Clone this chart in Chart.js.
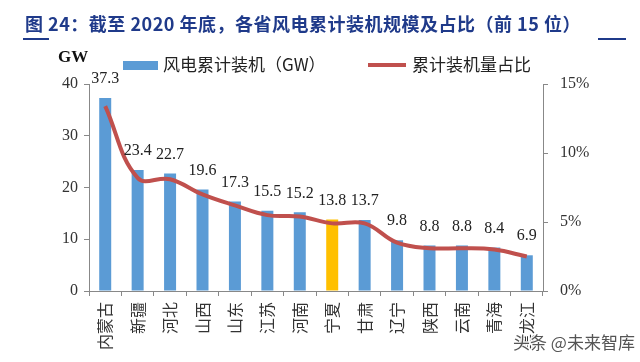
<!DOCTYPE html>
<html>
<head>
<meta charset="utf-8">
<script src="https://cdn.jsdelivr.net/npm/chart.js@4"></script>
<style>
  html, body { margin: 0; padding: 0; background: #fff; }
  #wrap { width: 640px; height: 362px; position: relative; }
</style>
</head>
<body>
<div id="wrap"><canvas id="myChart"></canvas></div>
<script>
const provinces = ["内蒙古", "新疆", "河北", "山西", "山东", "江苏", "河南", "宁夏", "甘肃", "辽宁", "陕西", "云南", "青海", "黑龙江"];
const capacityGW = [37.3, 23.4, 22.7, 19.6, 17.3, 15.5, 15.2, 13.8, 13.7, 9.8, 8.8, 8.8, 8.4, 6.9];
const sharePct = [13.4, 8.2, 8.1, 7.0, 6.2, 5.5, 5.4, 4.9, 4.9, 3.5, 3.1, 3.1, 3.0, 2.5];
const gwTicks = [0, 10, 20, 30, 40];
const pctTicks = [0, 5, 10, 15];

const titleText = "图 24：截至 2020 年底，各省风电累计装机规模及占比（前 15 位）";
const navy = "#1f3a8a";
const blue = "#5b9bd5";
const red = "#c0504d";
const serif = "'Liberation Serif', 'DejaVu Serif', serif";
const cjk = "'Noto Sans CJK SC', sans-serif";

const barColors = provinces.map((p) => (p === "宁夏" ? "#ffc000" : blue));

// title, legend, unit, value labels and watermark
const decor = {
  id: "decor",
  afterDatasetsDraw(chart) {
    const ctx = chart.ctx;
    ctx.save();

    ctx.fillStyle = navy;
    ctx.font = "bold 18px " + cjk;
    ctx.textBaseline = "middle";
    ctx.textAlign = "left";
    ctx.letterSpacing = "0.5px";
    ctx.fillText(titleText, 25, 24);
    ctx.letterSpacing = "0px";
    ctx.fillRect(23, 38, 26, 2);
    ctx.fillRect(598, 38, 28, 2);

    ctx.fillStyle = "#111";
    ctx.font = "bold 17px " + serif;
    ctx.fillText("GW", 58, 58);

    // legend
    const ds = chart.data.datasets;
    ctx.fillStyle = blue;
    ctx.fillRect(123, 61, 35, 9);
    ctx.fillStyle = "#222";
    ctx.font = "17px " + cjk;
    ctx.fillText(ds[0].label, 163, 65);
    ctx.strokeStyle = red;
    ctx.lineWidth = 4;
    ctx.beginPath();
    ctx.moveTo(368, 65);
    ctx.lineTo(406, 65);
    ctx.stroke();
    ctx.fillText(ds[1].label, 412, 65);

    // values above bars
    const meta = chart.getDatasetMeta(0);
    ctx.font = "16px " + serif;
    ctx.textAlign = "center";
    ctx.fillStyle = "#222";
    meta.data.forEach((bar, i) => {
      ctx.fillText(capacityGW[i].toFixed(1), bar.x, bar.y - 19);
    });

    // watermark
    ctx.font = "17px " + cjk;
    ctx.textAlign = "left";
    ctx.lineWidth = 3;
    ctx.strokeStyle = "rgba(255,255,255,0.9)";
    ctx.strokeText("头条 @未来智库", 513, 343);
    ctx.fillStyle = "#555";
    ctx.fillText("头条 @未来智库", 513, 343);

    ctx.restore();
  },
};

new Chart(document.querySelector("#myChart"), {
  type: "bar",
  data: {
    labels: provinces,
    datasets: [
      {
        type: "bar",
        label: "风电累计装机（GW）",
        data: capacityGW,
        backgroundColor: barColors,
        yAxisID: "y",
        barPercentage: 0.37,
        categoryPercentage: 1,
        order: 2,
      },
      {
        type: "line",
        label: "累计装机量占比",
        data: sharePct,
        borderColor: red,
        borderWidth: 4,
        tension: 0.4,
        pointRadius: 0,
        yAxisID: "y1",
        order: 1,
      },
    ],
  },
  options: {
    responsive: true,
    maintainAspectRatio: false,
    animation: false,
    layout: { padding: { top: 84, left: 0, right: 0, bottom: 0 } },
    plugins: {
      legend: { display: false },
      tooltip: { enabled: false },
    },
    scales: {
      x: {
        afterFit(s) { s.height = 71; },
        grid: { drawOnChartArea: false, tickLength: 5, color: "#888", offset: true },
        border: { color: "#888" },
        ticks: {
          minRotation: 90,
          maxRotation: 90,
          padding: 6,
          color: "#333",
          font: { family: cjk, size: 16 },
        },
      },
      y: {
        position: "left",
        min: 0,
        max: 40,
        afterFit(s) { s.width = 89; },
        afterBuildTicks(s) { s.ticks = gwTicks.map((v) => ({ value: v })); },
        grid: { drawOnChartArea: false, tickLength: 5, color: "#888" },
        border: { color: "#888" },
        ticks: { padding: 6, color: "#333", font: { family: serif, size: 16 } },
      },
      y1: {
        position: "right",
        min: 0,
        max: 15,
        afterFit(s) { s.width = 97; },
        afterBuildTicks(s) { s.ticks = pctTicks.map((v) => ({ value: v })); },
        grid: { drawOnChartArea: false, tickLength: 5, color: "#888" },
        border: { color: "#888" },
        ticks: {
          padding: 12,
          color: "#333",
          font: { family: serif, size: 16 },
          callback: (v) => v + "%",
        },
      },
    },
  },
  plugins: [decor],
});
</script>
</body>
</html>
